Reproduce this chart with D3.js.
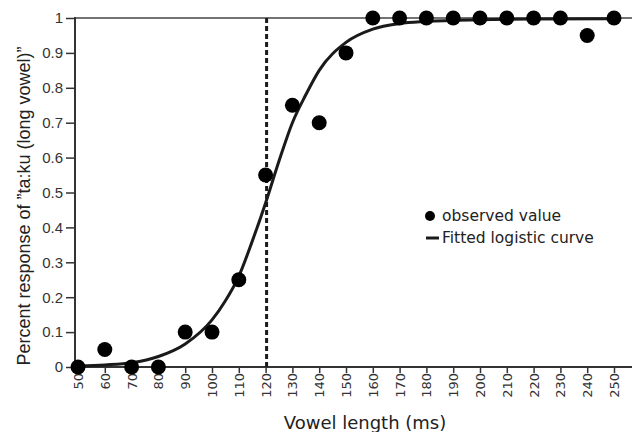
<!DOCTYPE html>
<html><head><meta charset="utf-8">
<script src="https://cdn.jsdelivr.net/npm/d3@7"></script>
<style>body{margin:0;background:#fff}svg{display:block}</style>
</head><body>
<svg id="c" width="634" height="432"></svg>
<script>
const lengths = [50,60,70,80,90,100,110,120,130,140,150,160,170,180,190,200,210,220,230,240,250];
const observed = [0,0.05,0,0,0.1,0.1,0.25,0.55,0.75,0.7,0.9,1,1,1,1,1,1,1,1,0.95,1];
const curveX = [50,60,70,80,90,100,105,110,115,120,125,130,135,140,150,160,170,180,200,220,250];
const curveY = [0.003,0.006,0.012,0.03,0.066,0.135,0.19,0.26,0.36,0.47,0.59,0.7,0.78,0.85,0.93,0.968,0.984,0.99,0.995,0.997,0.998];
const xTicks = lengths;
const yTicks = [0,0.1,0.2,0.3,0.4,0.5,0.6,0.7,0.8,0.9,1];
const threshold = 120;

const svg = d3.select('#c');
const x = d3.scaleLinear().domain([50,250]).range([78,614]);
const y = d3.scaleLinear().domain([0,1]).range([367,18]);
const ink = '#1a1a1a';

// top line
svg.append('line').attr('x1',75).attr('x2',632).attr('y1',y(1)).attr('y2',y(1))
  .attr('stroke','#444').attr('stroke-width',1.5);

// y axis
const ya = svg.append('g').attr('transform','translate(75,0)')
  .call(d3.axisLeft(y).tickValues(yTicks).tickSize(9).tickFormat(d=>d===0?'0':d===1?'1':d3.format('.1f')(d)));
ya.select('.domain').remove();
ya.selectAll('line').attr('stroke','#333').attr('stroke-width',1.5);
ya.selectAll('text').attr('font-family','Liberation Sans, Arial, sans-serif').attr('font-size',15).attr('fill','#333').attr('x',-12);
svg.append('line').attr('x1',75).attr('x2',75).attr('y1',y(1)-1).attr('y2',y(0)+1).attr('stroke','#333').attr('stroke-width',2);

// x axis
const xa = svg.append('g').attr('transform',`translate(0,${y(0)})`)
  .call(d3.axisBottom(x).tickValues(xTicks).tickSize(6).tickFormat(d3.format('d')));
xa.select('.domain').remove();
xa.selectAll('line').attr('stroke','#333').attr('stroke-width',1.5);
xa.selectAll('text').attr('font-family','DejaVu Sans, sans-serif').attr('font-size',13).attr('fill','#333')
  .attr('transform','rotate(-90)').attr('text-anchor','end').attr('x',-6).attr('y',0).attr('dy','0.35em');
svg.append('line').attr('x1',74).attr('x2',632).attr('y1',y(0)).attr('y2',y(0)).attr('stroke','#333').attr('stroke-width',2);

// threshold dashed line
svg.append('line').attr('x1',x(threshold)+1).attr('x2',x(threshold)+1).attr('y1',y(1)).attr('y2',y(0))
  .attr('stroke',ink).attr('stroke-width',3).attr('stroke-dasharray','5,3');

// fitted curve
const pts = curveX.map((d,i)=>[d,curveY[i]]);
svg.append('path').datum(pts)
  .attr('d',d3.line().x(d=>x(d[0])).y(d=>y(d[1])).curve(d3.curveMonotoneX))
  .attr('fill','none').attr('stroke',ink).attr('stroke-width',3);

// observed points
svg.append('g').selectAll('circle').data(lengths).join('circle')
  .attr('cx',d=>x(d)).attr('cy',(d,i)=>y(observed[i])).attr('r',7.5).attr('fill','#000');

// legend
const lf = 'DejaVu Sans, sans-serif';
svg.append('circle').attr('cx',430).attr('cy',216).attr('r',5).attr('fill','#000');
svg.append('text').attr('x',442).attr('y',221).attr('font-family',lf).attr('font-size',15.5).attr('fill','#222').text('observed value');
svg.append('line').attr('x1',426).attr('x2',439).attr('y1',238).attr('y2',238).attr('stroke',ink).attr('stroke-width',3);
svg.append('text').attr('x',442).attr('y',243).attr('font-family',lf).attr('font-size',15.5).attr('fill','#222').text('Fitted logistic curve');

// axis titles
svg.append('text').attr('x',365).attr('y',429).attr('text-anchor','middle').attr('font-family',lf).attr('font-size',18).attr('fill','#222').text('Vowel length (ms)');
svg.append('text').attr('transform','translate(30,206) rotate(-90)').attr('text-anchor','middle')
  .attr('font-family','Liberation Sans, Arial, sans-serif').attr('font-size',18).attr('fill','#222')
  .text('Percent response of ”ta:ku (long vowel)”');
</script>
</body></html>
